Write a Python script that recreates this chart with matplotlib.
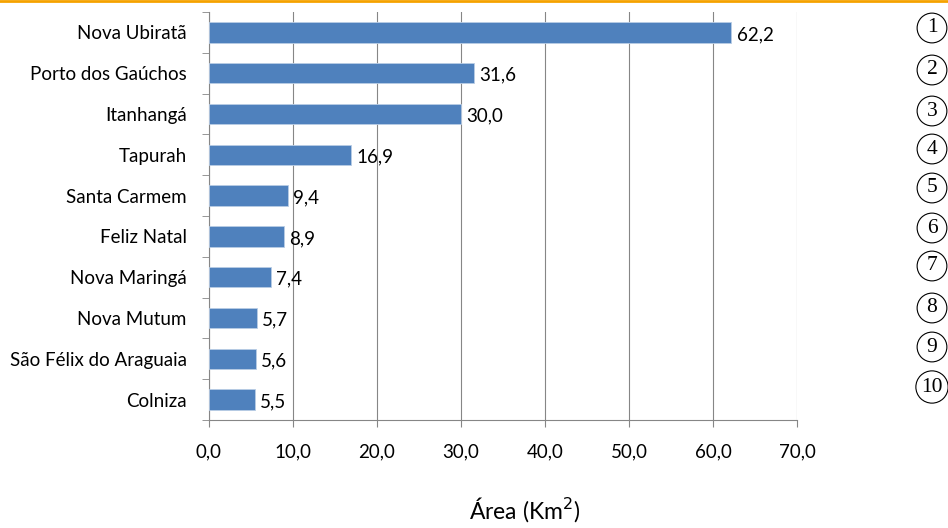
import matplotlib.pyplot as plt
from matplotlib.lines import Line2D

municipios = ['Nova Ubiratã', 'Porto dos Gaúchos', 'Itanhangá', 'Tapurah', 'Santa Carmem',
              'Feliz Natal', 'Nova Maringá', 'Nova Mutum', 'São Félix do Araguaia', 'Colniza']
area = [62.2, 31.6, 30.0, 16.9, 9.4, 8.9, 7.4, 5.7, 5.6, 5.5]
ranking = ['1', '2', '3', '4', '5', '6', '7', '8', '9', '10']

plt.rcParams['font.family'] = ['Lato', 'DejaVu Sans']

fig = plt.figure(figsize=(9.48, 5.28), dpi=100)
ax = fig.add_axes([209 / 948, 1 - 420 / 528, (797 - 209) / 948, (420 - 12) / 528])

pos = list(range(len(municipios)))[::-1]
ax.barh(pos, area, height=0.5, color='#4F81BD', edgecolor='#B9CDE5', linewidth=0.6, zorder=3)
for p, v in zip(pos, area):
    ax.text(v + 0.6, p - 0.05, f'{v:.1f}'.replace('.', ','), va='center', ha='left', fontsize=13.5)

ax.set_xlim(0, 70)
ax.set_ylim(-0.5, len(municipios) - 0.5)
ax.set_xticks(range(0, 71, 10))
ax.set_xticklabels([f'{x:.1f}'.replace('.', ',') for x in range(0, 71, 10)], fontsize=13.5)
ax.set_yticks(pos)
ax.set_yticklabels(municipios, fontsize=13.5)
ax.set_yticks([p + 0.5 for p in range(len(municipios))] + [-0.5], minor=True)
ax.tick_params(axis='y', which='major', length=0, pad=16)
ax.tick_params(axis='y', which='minor', length=5, direction='out', color='#868686')
ax.tick_params(axis='x', length=5, direction='out', color='#868686', pad=12)
ax.grid(axis='x', color='#868686', linewidth=0.8, zorder=0)
for s in ['top', 'right']:
    ax.spines[s].set_visible(False)
for s in ['left', 'bottom']:
    ax.spines[s].set_color('#868686')

fig.text(525 / 948, 1 - 510 / 528, 'Área (Km$^2$)', ha='center', va='center', fontsize=16.5)

# linha laranja no topo
fig.add_artist(Line2D([0, 1], [0.998, 0.998], transform=fig.transFigure, color='#F5A200', linewidth=2))

# numeração circulada
ys = [28, 70, 111, 149, 188, 228, 266, 308, 347, 387]
for r, y in zip(ranking, ys):
    fig.text(932 / 948, 1 - y / 528, r, ha='center', va='center', fontsize=15.5,
             family='Liberation Serif',
             bbox=dict(boxstyle='circle,pad=0.25', facecolor='white', edgecolor='black', linewidth=0.8))

fig.savefig('out.png', dpi=100)
